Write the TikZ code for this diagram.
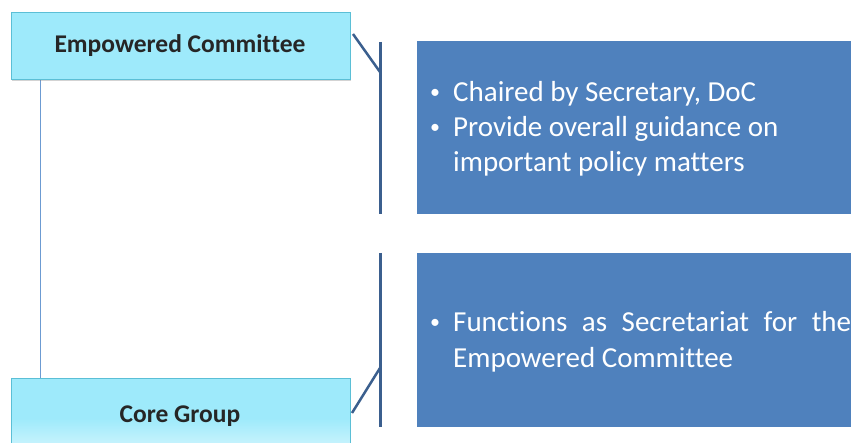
\documentclass[tikz,border=0pt]{standalone}
\usepackage{fontspec}
\setmainfont{Carlito}[Ligatures=NoCommon]
\usetikzlibrary{shadows}
\definecolor{cyanfill}{HTML}{9EEAFB}
\definecolor{cyanlight}{HTML}{DDF8FE}
\definecolor{cyanedge}{HTML}{5BBFD6}
\definecolor{bluebox}{HTML}{4F81BD}
\definecolor{bracketc}{HTML}{3B5F8E}
\definecolor{linkc}{HTML}{6C9BD2}
\tikzset{
  orgbox/.style={draw=cyanedge, line width=0.8pt, minimum width=339pt, minimum height=67pt,
    inner sep=0pt, anchor=north west, drop shadow={shadow xshift=1pt, shadow yshift=-1.5pt, opacity=0.35}},
  infobox/.style={fill=bluebox, draw=none, anchor=north west, minimum width=434pt, minimum height=173pt, inner sep=0pt},
  bracketline/.style={draw=bracketc, line width=3pt},
  diagline/.style={draw=bracketc, line width=2.5pt},
  orgtext/.style={font=\bfseries\fontsize{25.5}{30}\selectfont, text=black!85, anchor=base, inner sep=0pt},
  infotext/.style={text=white, font=\fontsize{29}{35}\selectfont, anchor=base west, inner sep=0pt},
  bullettext/.style={text=white, font=\fontsize{20}{24}\selectfont, anchor=base west, inner sep=0pt}
}
\begin{document}
\begin{tikzpicture}[x=1pt,y=-1pt]
\useasboundingbox (0,0) rectangle (851,443);
\clip (0,0) rectangle (851,443);
% connector between boxes
\coordinate (lt) at (40,79);
\coordinate (lb) at (40,379);
\draw[linkc, line width=0.8pt] (lt) -- (lb);
% org boxes
\node[orgbox, fill=cyanfill] (ec) at (11,12) {};
\node[orgtext] (ect) at (180,53) {Empowered Committee};
\node[orgbox, top color=cyanfill, bottom color=cyanlight, middle color=cyanfill, minimum height=80pt] (cg) at (11,378) {};
\node[orgtext] (cgt) at (180,422) {Core Group};
% info boxes
\node[infobox] (ib1) at (417,41) {};
\node[infobox, minimum height=174pt] (ib2) at (417,253) {};
% brackets
\coordinate (b1t) at (380,42);
\coordinate (b1b) at (380,214);
\coordinate (b1m) at (380,72);
\draw[bracketline] (b1t) -- (b1b);
\draw[diagline] (353,34) -- (b1m);
\coordinate (b2t) at (380,253);
\coordinate (b2b) at (380,427);
\coordinate (b2m) at (380,368);
\draw[bracketline] (b2t) -- (b2b);
\draw[diagline] (352,413) -- (b2m);
% texts
\node[bullettext] (bu1) at (430,99) {•};
\node[infotext] (t1) at (453,102) {Chaired by Secretary, DoC};
\node[bullettext] (bu2) at (430,134) {•};
\node[infotext] (t2) at (453,137) {Provide overall guidance on};
\node[infotext] (t3) at (453,172) {important policy matters};
\node[bullettext] (bu3) at (430,329) {•};
\node[infotext] (t4) at (453,332) {\makebox[398pt][s]{Functions as Secretariat for the}};
\node[infotext] (t5) at (453,367) {Empowered Committee};
\end{tikzpicture}
\end{document}
